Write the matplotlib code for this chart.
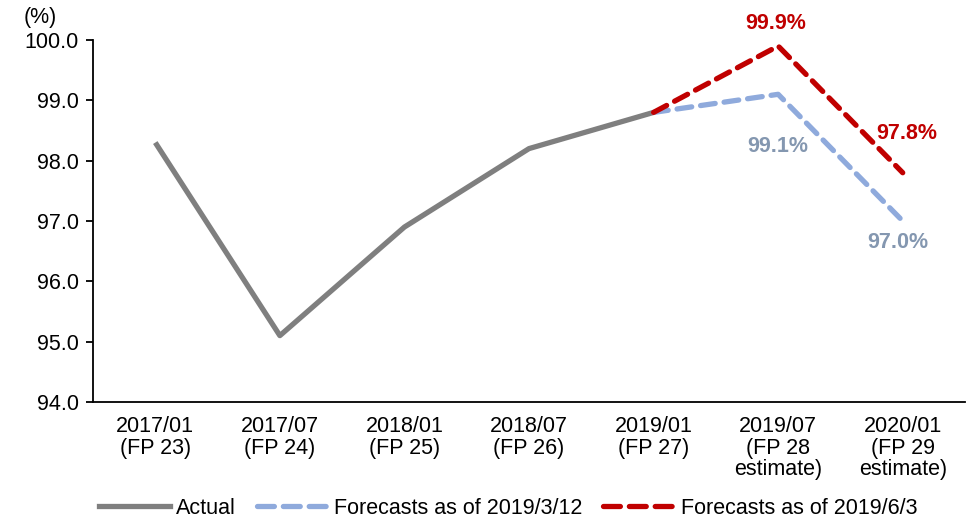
import matplotlib.pyplot as plt
from matplotlib.lines import Line2D

plt.rcParams["font.family"] = ["Liberation Sans", "DejaVu Sans"]

categories = [
    "2017/01\n(FP 23)", "2017/07\n(FP 24)", "2018/01\n(FP 25)", "2018/07\n(FP 26)",
    "2019/01\n(FP 27)", "2019/07\n(FP 28\nestimate)", "2020/01\n(FP 29\nestimate)",
]
actual = [98.3, 95.1, 96.9, 98.2, 98.8]
forecast_0312 = [98.8, 99.1, 97.0]
forecast_0603 = [98.8, 99.9, 97.8]

gray = "#7F7F7F"
blue = "#8FAADC"
blue_txt = "#8497B0"
red = "#C00000"
fs = 15.5

fig = plt.figure(figsize=(9.69, 5.18), dpi=100)
ax = fig.add_axes([93 / 969, 1 - 402 / 518, (965 - 93) / 969, (402 - 40) / 518])

x = list(range(len(categories)))
dash = (0, (2.8, 1.7))
ax.plot(x[:5], actual, color=gray, lw=3.8, solid_capstyle="butt")
ax.plot(x[4:], forecast_0312, color=blue, lw=3.8, ls=dash, dash_capstyle="round")
ax.plot(x[4:], forecast_0603, color=red, lw=3.8, ls=dash, dash_capstyle="round")

ax.set_xlim(-0.5, len(categories) - 0.5)
ax.set_ylim(94, 100)
ax.set_yticks([94, 95, 96, 97, 98, 99, 100])
ax.set_yticklabels([f"{v:.1f}" for v in ax.get_yticks()], fontsize=fs)
ax.set_xticks(x)
ax.set_xticklabels(categories, fontsize=fs, linespacing=1.05)
ax.tick_params(axis="x", length=0, pad=10)
ax.tick_params(axis="y", length=5, width=1.3, pad=5)
for s in ["top", "right"]:
    ax.spines[s].set_visible(False)
for s in ["left", "bottom"]:
    ax.spines[s].set_linewidth(1.3)

lab = dict(fontsize=fs, fontweight="bold", ha="center", va="center")
ax.text(x[5] - 0.02, forecast_0603[1] + 0.37, f"{forecast_0603[1]:.1f}%", color=red, **lab)
ax.text(x[5], forecast_0312[1] - 0.87, f"{forecast_0312[1]:.1f}%", color=blue_txt, **lab)
ax.text(x[6] + 0.03, forecast_0603[2] + 0.65, f"{forecast_0603[2]:.1f}%", color=red, **lab)
ax.text(x[6] - 0.04, forecast_0312[2] - 0.35, f"{forecast_0312[2]:.1f}%", color=blue_txt, **lab)

fig.text(40 / 969, 1 - 18 / 518, "(%)", fontsize=fs, ha="center", va="center")

leg_dash = (0, (3.2, 1.7))
handles = [
    Line2D([], [], color=gray, lw=3.8),
    Line2D([], [], color=blue, lw=3.8, ls=leg_dash, dash_capstyle="round"),
    Line2D([], [], color=red, lw=3.8, ls=leg_dash, dash_capstyle="round"),
]
fig.legend(handles, ["Actual", "Forecasts as of 2019/3/12", "Forecasts as of 2019/6/3"],
           loc="center", bbox_to_anchor=(508 / 969, 1 - 508 / 518), ncol=3, frameon=False,
           fontsize=fs, handlelength=3.3, handletextpad=0.3, columnspacing=0.95)

fig.savefig("out.png", dpi=100)
